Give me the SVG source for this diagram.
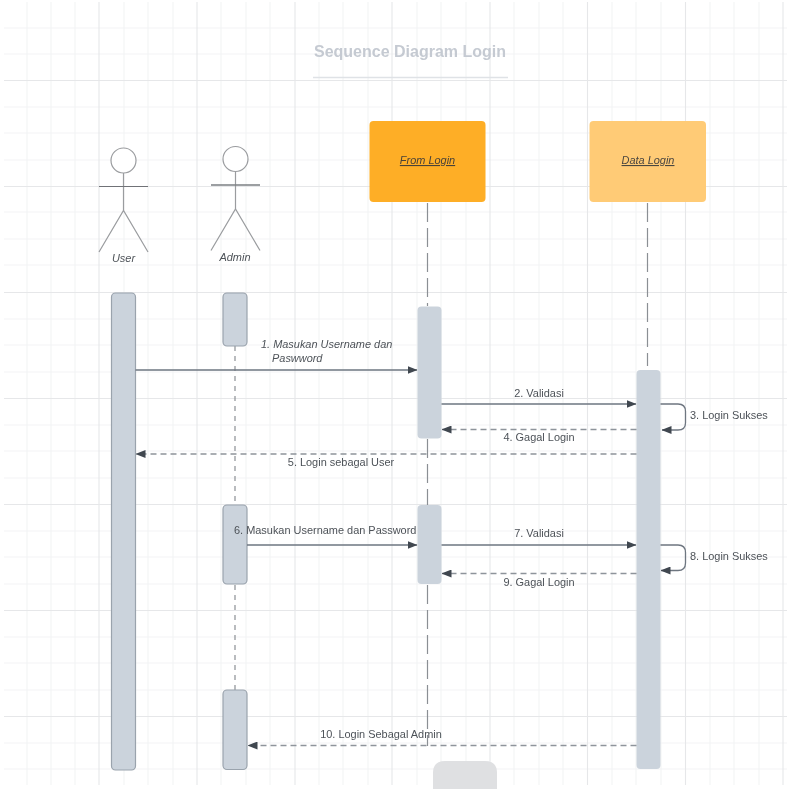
<svg xmlns="http://www.w3.org/2000/svg" width="787" height="789" viewBox="0 0 787 789">
<defs>
<style>
.minor{stroke:#f3f4f5;stroke-width:1.1;fill:none}
.major{stroke:#e6e7e9;stroke-width:1.1;fill:none}
.bar{fill:#cbd3dc}
.barb{fill:#cbd3dc;stroke:#9aa3ad;stroke-width:1.2}
.life{stroke:#8b8f94;stroke-width:1.2;fill:none}
.msg{stroke:#6e7680;stroke-width:1.3;fill:none}
.msgd{stroke:#8e949b;stroke-width:1.3;fill:none;stroke-dasharray:6 4}
.actor{stroke:#9a9c9f;stroke-width:1.2;fill:#fff}
text{font-family:"Liberation Sans",Arial,sans-serif;font-size:10.95px;fill:#4d5258}
.it{font-style:italic}
.m{text-anchor:middle}
</style>
<marker id="arrow" viewBox="0 0 10 8" refX="9.5" refY="4" markerWidth="10" markerHeight="8" markerUnits="userSpaceOnUse" orient="auto"><path d="M0 0L10 4L0 8Z" fill="#3f4750"/></marker>
<filter id="soft" x="-2%" y="-2%" width="104%" height="104%"><feGaussianBlur stdDeviation="0.5"/></filter>
</defs>
<rect width="787" height="789" fill="#fff"/>
<g id="scene" filter="url(#soft)">
<g id="grid">
<path class="minor" d="M27 2V785M51 2V785M75 2V785M124 2V785M148 2V785M173 2V785M221 2V785M246 2V785M270 2V785M319 2V785M343 2V785M368 2V785M417 2V785M441 2V785M466 2V785M514 2V785M539 2V785M563 2V785M612 2V785M636 2V785M661 2V785M710 2V785M734 2V785M759 2V785M4 28H787M4 54H787M4 107H787M4 133H787M4 160H787M4 212H787M4 239H787M4 265H787M4 319H787M4 345H787M4 372H787M4 425H787M4 451H787M4 478H787M4 531H787M4 557H787M4 584H787M4 637H787M4 663H787M4 690H787M4 743H787M4 769H787"/>
<path class="major" d="M99 2V785M197 2V785M295 2V785M392 2V785M490 2V785M587.500 2V785M685.500 2V785M783 2V785M4 80.500H787M4 186.500H787M4 292.500H787M4 398.500H787M4 504.500H787M4 610.500H787M4 716.500H787"/>
</g>
<g id="title">
<text x="410" y="57" text-anchor="middle" style="font-size:16px;font-weight:700;fill:#c5cad2">Sequence Diagram Login</text>
<path d="M313 77.500H508" stroke="#dfe2e6" stroke-width="1.300"/>
</g>
<g id="lifelines">
<path class="life" stroke-dasharray="5 5" d="M235 346V505M235 585V690"/>
<path class="life" stroke-dasharray="19 6" d="M427.500 203V306M427.500 439V505M427.500 585V746"/>
<path class="life" stroke-dasharray="19 6" d="M647.500 203V366"/>
</g>
<g id="node-user">
<circle class="actor" cx="123.500" cy="160.500" r="12.500"/>
<path class="actor" d="M123.500 173V210.500M99 186.500H148"/>
<path class="actor" style="fill:none" d="M99 252L123.500 210.500L148 252"/>
<path d="M99 186.500H148" stroke="#6f7277" stroke-width="1.200"/>
<text class="it m" x="123.500" y="262">User</text>
</g>
<g id="node-admin">
<circle class="actor" cx="235.500" cy="159" r="12.500"/>
<path class="actor" d="M235.500 171.500V209M211 185H260"/>
<path class="actor" style="fill:none" d="M211 250.500L235.500 209L260 250.500"/>
<path d="M211 185H260" stroke="#6f7277" stroke-width="1.200"/>
<text class="it m" x="235" y="260.500">Admin</text>
</g>
<g id="node-from-login">
<rect x="369.500" y="121" width="116" height="81" rx="4" fill="#feae27"/>
<text class="it m" x="427.500" y="164" text-decoration="underline" style="fill:#4a4238">From Login</text>
</g>
<g id="node-data-login">
<rect x="589.500" y="121" width="116.500" height="81" rx="4" fill="#ffcb76"/>
<text class="it m" x="648" y="164" text-decoration="underline" style="fill:#4a4640">Data Login</text>
</g>
<g id="activations">
<rect id="act-user" class="barb" x="111.500" y="293" width="24" height="477" rx="4"/>
<rect id="act-admin-1" class="barb" x="223" y="293" width="24" height="53" rx="4"/>
<rect id="act-admin-2" class="barb" x="223" y="505" width="24" height="79" rx="4"/>
<rect id="act-admin-3" class="barb" x="223" y="690" width="24" height="79.500" rx="4"/>
<rect id="act-from-1" class="bar" x="417.500" y="306.500" width="24" height="132" rx="4"/>
<rect id="act-from-2" class="bar" x="417.500" y="505" width="24" height="79" rx="4"/>
<rect id="act-data" class="bar" x="636.500" y="370" width="24" height="399" rx="4"/>
</g>
<g id="connectors">
<path class="msg" marker-end="url(#arrow)" d="M135.500 370H417"/>
<path class="msg" marker-end="url(#arrow)" d="M441.500 404H636"/>
<path class="msg" marker-end="url(#arrow)" d="M660.500 404H678Q685.500 404 685.500 411.500V423Q685.500 430 678 430H662"/>
<path class="msgd" marker-end="url(#arrow)" d="M636.500 429.500H442"/>
<path class="msgd" marker-end="url(#arrow)" d="M636.500 454H136"/>
<path class="msg" marker-end="url(#arrow)" d="M247 545H417"/>
<path class="msg" marker-end="url(#arrow)" d="M441.500 545H636"/>
<path class="msg" marker-end="url(#arrow)" d="M660.500 545H678Q685.500 545 685.500 552.500V563Q685.500 570.500 678 570.500H661"/>
<path class="msgd" marker-end="url(#arrow)" d="M636.500 573.500H442"/>
<path class="msgd" marker-end="url(#arrow)" d="M636.500 745.500H248"/>
</g>
<g id="labels">
<text class="it" x="261" y="348">1. Masukan Username dan</text>
<text class="it" x="272" y="362">Paswword</text>
<text class="m" x="539" y="397">2. Validasi</text>
<text x="690" y="419">3. Login Sukses</text>
<text class="m" x="539" y="441">4. Gagal Login</text>
<text class="m" x="341" y="466">5. Login sebagal User</text>
<text x="234" y="534">6. Masukan Username dan Password</text>
<text class="m" x="539" y="537">7. Validasi</text>
<text x="690" y="560">8. Login Sukses</text>
<text class="m" x="539" y="586">9. Gagal Login</text>
<text class="m" x="381" y="738">10. Login Sebagal Admin</text>
</g>
<path id="partial-shape" d="M433 789V773Q433 761 445 761H485Q497 761 497 773V789Z" fill="#dfe0e2"/>
</g>
</svg>
